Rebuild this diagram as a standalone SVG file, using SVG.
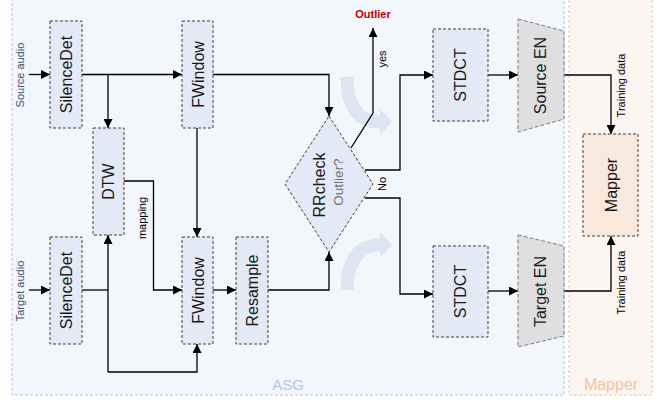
<svg xmlns="http://www.w3.org/2000/svg" width="660" height="400" viewBox="0 0 660 400">
<defs>
<marker id="ah" viewBox="0 0 10 10" refX="10" refY="5" markerUnits="userSpaceOnUse" markerWidth="9" markerHeight="9" orient="auto">
<path d="M0,0 L10,5 L0,10 z" fill="#000"/>
</marker>
<style>
text{font-family:"Liberation Sans",Arial,sans-serif;}
.box{fill:#e3e9f5;stroke:#404040;stroke-width:1;stroke-dasharray:3 2;}
.trap{fill:#dfdfdf;stroke:#7f7f7f;stroke-width:1;stroke-dasharray:4 2;}
.map{fill:#f9e8dc;stroke:#404040;stroke-width:1;stroke-dasharray:3 2;}
.lbl{font-size:16px;fill:#1a1a1a;text-anchor:middle;}
.sm{font-size:11px;fill:#000;text-anchor:middle;}
.io{font-size:11px;fill:#44546a;text-anchor:middle;}
.ln{fill:none;stroke:#000;stroke-width:1.3;}
.deco{fill:none;stroke:#dde5f2;stroke-width:13;}
</style>
</defs>
<g id="containers">
<rect x="12" y="-2" width="552" height="397" fill="#f3f6fb" stroke="#a9c2e6" stroke-width="1" stroke-dasharray="3 2"/>
<rect x="569" y="-2" width="83" height="397" fill="#fbf6f2" stroke="#f4c4a4" stroke-width="1" stroke-dasharray="3 2"/>
<text x="288" y="390" text-anchor="middle" font-size="15" fill="#b4c7e7">ASG</text>
<text x="611" y="390" text-anchor="middle" font-size="16" fill="#f6c29f">Mapper</text>
</g>
<g id="deco-arrows">
<path class="deco" d="M347 77 C347 106 358 122 380 122"/>
<polygon points="380,109 392,122 380,135" fill="#dde5f2"/>
<path class="deco" d="M347 290 C347 261 358 245 380 245"/>
<polygon points="380,232 392,245 380,258" fill="#dde5f2"/>
</g>
<g id="connectors">
<path class="ln" d="M29 74.5 H50" marker-end="url(#ah)"/>
<path class="ln" d="M82 74.5 H182" marker-end="url(#ah)"/>
<path class="ln" d="M108 74.5 V128" marker-end="url(#ah)"/>
<path class="ln" d="M213 74.5 H329 V116" marker-end="url(#ah)"/>
<path class="ln" d="M197 128 V237" marker-end="url(#ah)"/>
<path class="ln" d="M124 181 H153.5 V290 H182" marker-end="url(#ah)"/>
<path class="ln" d="M29 290 H50" marker-end="url(#ah)"/>
<path class="ln" d="M82 290 H108"/>
<path class="ln" d="M108 372 V235" marker-end="url(#ah)"/>
<path class="ln" d="M108 372 H197 V344" marker-end="url(#ah)"/>
<path class="ln" d="M213 290 H236" marker-end="url(#ah)"/>
<path class="ln" d="M268 290 H329 V252" marker-end="url(#ah)"/>
<path class="ln" d="M351 148 L373 113 V28" marker-end="url(#ah)"/>
<path class="ln" d="M365 170 H400 V75 H433" marker-end="url(#ah)"/>
<path class="ln" d="M365 198 H400 V294 H433" marker-end="url(#ah)"/>
<path class="ln" d="M488 75 H518" marker-end="url(#ah)"/>
<path class="ln" d="M488 291 H518" marker-end="url(#ah)"/>
<path class="ln" d="M564 75 H611 V134" marker-end="url(#ah)"/>
<path class="ln" d="M564 291 H611 V236" marker-end="url(#ah)"/>
<text class="io" transform="translate(24,75) rotate(-90)">Source audio</text>
<text class="io" transform="translate(24,291) rotate(-90)">Target audio</text>
<text class="sm" transform="translate(146,218) rotate(-90)">mapping</text>
<text class="sm" transform="translate(385.5,59) rotate(-90)">yes</text>
<text class="sm" transform="translate(385.5,184) rotate(-90)">No</text>
<text class="sm" transform="translate(625,85.5) rotate(-90)">Training data</text>
<text class="sm" transform="translate(625,282.5) rotate(-90)">Training data</text>
<text x="373" y="18" text-anchor="middle" font-size="11" font-weight="bold" fill="#c00000">Outlier</text>
</g>
<g id="silencedet-src">
<rect class="box" x="50" y="21" width="32" height="107"/>
<text class="lbl" font-size="17" transform="translate(72,74.5) rotate(-90)">SilenceDet</text>
</g>
<g id="fwindow-src">
<rect class="box" x="182" y="21" width="31" height="107"/>
<text class="lbl" font-size="17" transform="translate(203.5,74.5) rotate(-90)">FWindow</text>
</g>
<g id="dtw">
<rect class="box" x="93" y="128" width="31" height="107"/>
<text class="lbl" font-size="15" transform="translate(114,181.5) rotate(-90)">DTW</text>
</g>
<g id="silencedet-tgt">
<rect class="box" x="50" y="237" width="32" height="107"/>
<text class="lbl" font-size="17" transform="translate(72,290.5) rotate(-90)">SilenceDet</text>
</g>
<g id="fwindow-tgt">
<rect class="box" x="182" y="237" width="31" height="107"/>
<text class="lbl" font-size="17" transform="translate(203.5,290.5) rotate(-90)">FWindow</text>
</g>
<g id="resample">
<rect class="box" x="236" y="237" width="32" height="107"/>
<text class="lbl" font-size="16" transform="translate(258,290.5) rotate(-90)">Resample</text>
</g>
<g id="rrcheck">
<polygon class="box" points="329,116 373,184 329,252 285,184"/>
<text class="lbl" font-size="15" transform="translate(325,185) rotate(-90)">RRcheck</text>
<text text-anchor="middle" font-size="13.5" fill="#707070" transform="translate(342.5,182) rotate(-90)">Outlier?</text>
</g>
<g id="stdct-src">
<rect class="box" x="433" y="29" width="55" height="92"/>
<text class="lbl" font-size="14.5" transform="translate(466,75) rotate(-90)">STDCT</text>
</g>
<g id="stdct-tgt">
<rect class="box" x="433" y="246" width="55" height="91"/>
<text class="lbl" font-size="14.5" transform="translate(466,291.5) rotate(-90)">STDCT</text>
</g>
<g id="source-en">
<polygon class="trap" points="518,19 564,31 564,119 518,132"/>
<text class="lbl" font-size="15.3" transform="translate(546,75.5) rotate(-90)">Source EN</text>
</g>
<g id="target-en">
<polygon class="trap" points="518,235 564,246 564,336 518,347"/>
<text class="lbl" font-size="15.3" transform="translate(546,291.5) rotate(-90)">Target EN</text>
</g>
<g id="mapper">
<rect class="map" x="583" y="134" width="55" height="102"/>
<text class="lbl" font-size="16.5" transform="translate(616.5,185) rotate(-90)">Mapper</text>
</g>
</svg>
